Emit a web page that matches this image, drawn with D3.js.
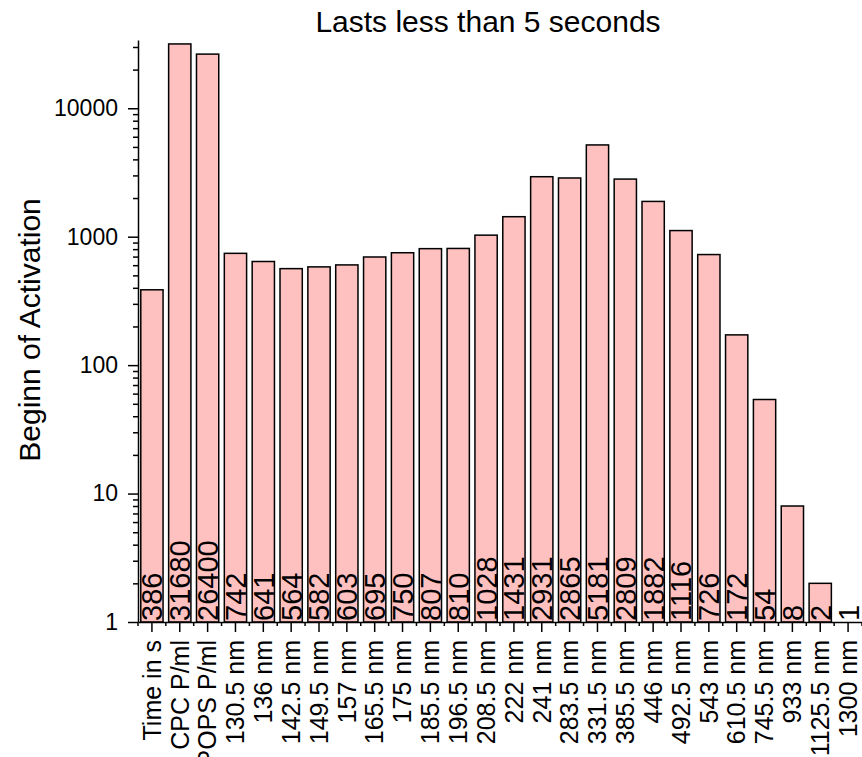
<!DOCTYPE html>
<html lang="en">
<head>
    <meta charset="utf-8">
    <title>Lasts less than 5 seconds</title>
    <script src="https://d3js.org/d3.v7.min.js"></script>
    <style>
        body { margin: 0; background: #fff; }
        #chart { display: block; }
        text { font-family: "Liberation Sans", Arial, sans-serif; fill: #000; }
        .axis path, .axis line { stroke: #000; stroke-width: 1.5; }
        .bar { fill: #ffc0c0; stroke: #000; stroke-width: 1.5; }
    </style>
</head>
<body>
    <svg id="chart"></svg>

    <script type="text/javascript">
        var categories = ["Time in s", "CPC P/ml", "POPS P/ml", "130.5 nm", "136 nm", "142.5 nm",
            "149.5 nm", "157 nm", "165.5 nm", "175 nm", "185.5 nm", "196.5 nm", "208.5 nm",
            "222 nm", "241 nm", "283.5 nm", "331.5 nm", "385.5 nm", "446 nm", "492.5 nm",
            "543 nm", "610.5 nm", "745.5 nm", "933 nm", "1125.5 nm", "1300 nm"];
        var counts = [386, 31680, 26400, 742, 641, 564, 582, 603, 695, 750, 807, 810, 1028,
            1431, 2931, 2865, 5181, 2809, 1882, 1116, 726, 172, 54, 8, 2, 1];
        var yTicks = [1, 10, 100, 1000, 10000];

        var width = 862;
        var height = 757;
        var svg = d3.select("#chart")
            .attr("width", width)
            .attr("height", height);

        var plotLeft = 138, plotRight = 862, plotBottom = 622, plotTop = 40;

        var xScale = d3.scaleBand()
            .domain(categories)
            .range([plotLeft, plotRight])
            .paddingInner(0.2)
            .paddingOuter(0.1);

        // plain slots used for ticks between bars
        var slot = (plotRight - plotLeft) / categories.length;

        var yScale = d3.scaleLog()
            .domain([1, 34000])
            .range([plotBottom, plotTop]);

        // bars
        svg.selectAll(".bar")
            .data(counts)
            .enter()
            .append("rect")
            .attr("class", "bar")
            .attr("x", function(d, i) { return xScale(categories[i]); })
            .attr("y", function(d) { return yScale(d); })
            .attr("width", xScale.bandwidth())
            .attr("height", function(d) { return yScale(1) - yScale(d); });

        // value labels along the foot of each bar
        svg.selectAll(".value")
            .data(counts)
            .enter()
            .append("text")
            .attr("class", "value")
            .attr("transform", function(d, i) {
                var cx = xScale(categories[i]) + xScale.bandwidth() / 2;
                return "translate(" + cx + "," + (yScale(1) - 1) + ") rotate(-90)";
            })
            .attr("dy", "0.36em")
            .style("font-size", "29px")
            .text(function(d) { return d; });

        // y axis: major and minor ticks
        var minor = [];
        for (var dec = 1; dec <= 10000; dec *= 10) {
            for (var k = 2; k <= 9; k++) {
                if (dec * k <= 34000) minor.push(dec * k);
            }
        }
        svg.append("g")
            .attr("class", "axis")
            .attr("transform", "translate(" + plotLeft + ",0)")
            .call(d3.axisLeft(yScale).tickValues(minor).tickSize(5).tickFormat(""))
            .select(".domain").remove();

        var yAxis = svg.append("g")
            .attr("class", "axis")
            .attr("transform", "translate(" + plotLeft + ",0)")
            .call(d3.axisLeft(yScale).tickValues(yTicks).tickSize(10).tickSizeOuter(0)
                .tickPadding(10).tickFormat(d3.format("d")));
        yAxis.selectAll("text").style("font-size", "23px");

        // x axis: ticks at bar centres, short ticks between bars
        var bounds = d3.range(categories.length + 1).map(function(i) { return plotLeft + i * slot; });
        svg.append("g")
            .attr("class", "axis")
            .selectAll("line")
            .data(bounds)
            .enter()
            .append("line")
            .attr("x1", function(d) { return d; })
            .attr("x2", function(d) { return d; })
            .attr("y1", plotBottom)
            .attr("y2", plotBottom + 4);

        var xAxis = svg.append("g")
            .attr("class", "axis")
            .attr("transform", "translate(0," + plotBottom + ")")
            .call(d3.axisBottom(xScale).tickSize(10).tickSizeOuter(0));
        xAxis.selectAll("text")
            .style("font-size", "25px")
            .attr("text-anchor", "end")
            .attr("transform", "rotate(-90)")
            .attr("x", -18)
            .attr("y", 0)
            .attr("dy", "0.35em");

        // title and axis label
        svg.append("text")
            .attr("x", 488)
            .attr("y", 32)
            .attr("text-anchor", "middle")
            .style("font-size", "30px")
            .text("Lasts less than 5 seconds");

        svg.append("text")
            .attr("transform", "translate(40,330) rotate(-90)")
            .attr("text-anchor", "middle")
            .style("font-size", "30px")
            .text("Beginn of Activation");
    </script>
</body>
</html>
